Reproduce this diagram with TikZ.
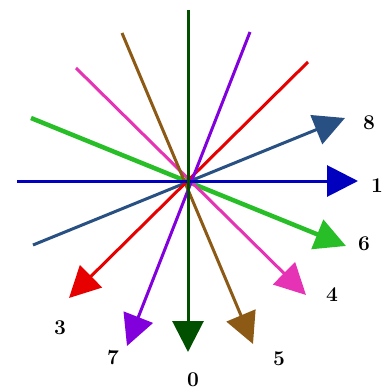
\documentclass[tikz,border=0pt]{standalone}
\usetikzlibrary{arrows.meta}
\definecolor{cZero}{RGB}{0,80,0}
\definecolor{cOne}{RGB}{0,0,190}
\definecolor{cEight}{RGB}{40,80,130}
\definecolor{cThree}{RGB}{230,0,0}
\definecolor{cSeven}{RGB}{130,0,220}
\definecolor{cFive}{RGB}{140,90,20}
\definecolor{cFour}{RGB}{230,50,180}
\definecolor{cSix}{RGB}{40,190,40}
\tikzset{
  ray/.style={line width=3pt, -{Triangle[length=31pt,width=31pt]}},
  lab/.style={font=\fontsize{21}{21}\selectfont\bfseries, text=black, inner sep=0pt}
}
\begin{document}
\begin{tikzpicture}[x=1pt,y=-1pt]
\useasboundingbox (0,0) rectangle (383,391);
% endpoints
\coordinate (s0) at (188,10);   \coordinate (e0) at (188,352);
\coordinate (s1) at (17,181);   \coordinate (e1) at (358,181);
\coordinate (s8) at (33,245);   \coordinate (e8) at (345,118);
\coordinate (s3) at (308,62);   \coordinate (e3) at (69,298);
\coordinate (s7) at (250,32);   \coordinate (e7) at (127,346);
\coordinate (s5) at (122,33);   \coordinate (e5) at (253,344);
\coordinate (s4) at (76,68);    \coordinate (e4) at (306,295);
\coordinate (s6) at (31,118);   \coordinate (e6) at (346,246);
\draw[ray, draw=cSix, fill=cSix, line width=4.5pt] (s6) -- (e6);
\draw[ray, draw=cFour, fill=cFour] (s4) -- (e4);
\draw[ray, draw=cFive, fill=cFive] (s5) -- (e5);
\draw[ray, draw=cEight, fill=cEight] (s8) -- (e8);
\draw[ray, draw=cThree, fill=cThree] (s3) -- (e3);
\draw[ray, draw=cSeven, fill=cSeven] (s7) -- (e7);
\draw[ray, draw=cOne, fill=cOne] (s1) -- (e1);
\draw[ray, draw=cZero, fill=cZero] (s0) -- (e0);
% labels
\node[lab] (l8) at (369,123) {8};
\node[lab] (l1) at (377,186) {1};
\node[lab] (l6) at (364,244) {6};
\node[lab] (l4) at (332,295) {4};
\node[lab] (l5) at (279,359) {5};
\node[lab] (l0) at (193,380) {0};
\node[lab] (l7) at (113,358) {7};
\node[lab] (l3) at (60,328) {3};
\end{tikzpicture}
\end{document}
